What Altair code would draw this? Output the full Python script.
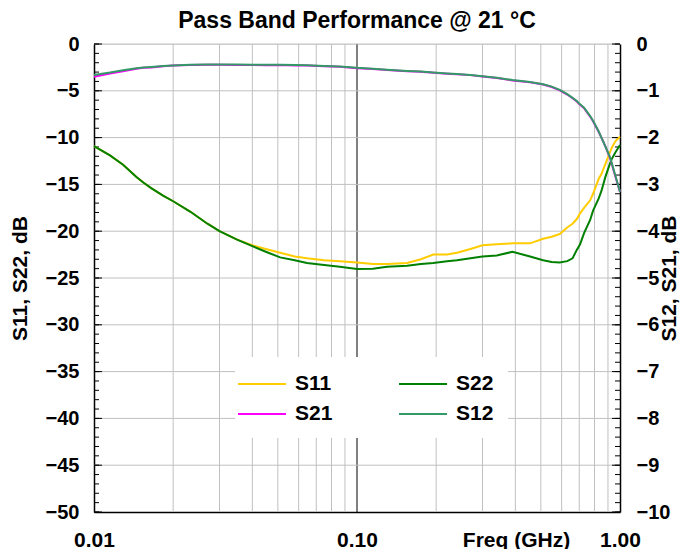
import altair as alt
import pandas as pd

# ---------------- data ----------------
freq = [0.01, 0.0115, 0.0129, 0.0145, 0.0154, 0.0165, 0.0183, 0.02, 0.0232, 0.027,
        0.03, 0.035, 0.04, 0.045, 0.051, 0.058, 0.0645, 0.075, 0.086, 0.1,
        0.115, 0.13, 0.155, 0.175, 0.195, 0.22, 0.24, 0.27, 0.30, 0.34,
        0.39, 0.455, 0.51, 0.55, 0.59, 0.63, 0.66, 0.685, 0.705, 0.73,
        0.77, 0.79, 0.83, 0.85, 0.88, 0.915, 0.93, 0.96, 1.0]

s11 = [-10.9, -11.9, -12.9, -14.2, -14.8, -15.4, -16.2, -16.8, -17.9, -19.2,
       -20.0, -20.9, -21.5, -21.9, -22.3, -22.7, -22.9, -23.1, -23.2, -23.35,
       -23.5, -23.5, -23.4, -23.0, -22.5, -22.5, -22.3, -21.9, -21.5, -21.4,
       -21.3, -21.3, -20.8, -20.6, -20.3, -19.6, -19.2, -18.7, -18.1, -17.5,
       -16.7, -16.0, -14.4, -13.9, -12.8, -11.6, -11.1, -10.4, -9.9]

s22 = [-10.9, -11.9, -12.9, -14.2, -14.8, -15.4, -16.2, -16.8, -17.9, -19.2,
       -20.0, -20.9, -21.6, -22.2, -22.8, -23.1, -23.4, -23.6, -23.8, -24.05,
       -24.0, -23.8, -23.7, -23.5, -23.4, -23.2, -23.1, -22.9, -22.7, -22.6,
       -22.2, -22.7, -23.1, -23.3, -23.35, -23.2, -22.9, -22.0, -21.4, -20.2,
       -18.8, -17.8, -16.5, -15.7, -14.2, -12.8, -12.3, -11.6, -10.8]

s21 = [-0.70, -0.63, -0.58, -0.53, -0.51, -0.50, -0.475, -0.46, -0.45, -0.445,
       -0.445, -0.45, -0.45, -0.455, -0.45, -0.46, -0.46, -0.475, -0.485, -0.52,
       -0.535, -0.555, -0.58, -0.595, -0.615, -0.635, -0.645, -0.665, -0.695, -0.725,
       -0.78, -0.815, -0.865, -0.92, -0.99, -1.08, -1.16, -1.23, -1.30, -1.37,
       -1.55, -1.65, -1.88, -2.00, -2.19, -2.43, -2.56, -2.83, -3.16]

s12 = [-0.66, -0.61, -0.56, -0.52, -0.50, -0.49, -0.47, -0.46, -0.445, -0.44,
       -0.44, -0.44, -0.445, -0.445, -0.445, -0.45, -0.455, -0.47, -0.48, -0.51,
       -0.53, -0.55, -0.575, -0.59, -0.61, -0.63, -0.64, -0.66, -0.69, -0.72,
       -0.77, -0.81, -0.86, -0.91, -0.98, -1.07, -1.15, -1.22, -1.29, -1.36,
       -1.54, -1.64, -1.87, -2.00, -2.19, -2.41, -2.54, -2.81, -3.16]

series_names = ["S11", "S22", "S21", "S12"]
series_colors = ["#FFCC00", "#008000", "#FF00FF", "#339966"]
legend_order = ["S11", "S21", "S22", "S12"]

x_labels = [0.01, 0.1, 1.0]
x_grid = [0.02, 0.03, 0.04, 0.05, 0.06, 0.07, 0.08, 0.09,
          0.2, 0.3, 0.4, 0.5, 0.6, 0.7, 0.8, 0.9]
x_major_line = [0.1]
left_major = list(range(-50, 1, 5))
left_minor = list(range(-50, 1, 1))
left_grid = list(range(-45, 1, 5))
right_major = list(range(-10, 1, 1))
right_minor = [round(-10 + 0.2 * i, 1) for i in range(51)]

# ---------------- layout / style ----------------
W, H = 526, 468
FONT = "Liberation Sans"
GRID = "#c0c0c0"

def series_df(name, vals):
    return pd.DataFrame({"freq": freq, "value": vals, "series": name})

xs = alt.Scale(type="log", domain=[0.01, 1.0], nice=False)
yl = alt.Scale(domain=[-50, 0], nice=False, zero=False)
yr = alt.Scale(domain=[-10, 0], nice=False, zero=False)
cs = alt.Scale(domain=series_names, range=series_colors)

legend = alt.Legend(
    title=None, orient="none", legendX=141, legendY=313, columns=2,
    values=legend_order,
    symbolType="M-2,0H2", symbolSize=576, symbolStrokeWidth=2,
    labelFont=FONT, labelFontSize=21, labelFontWeight="bold", labelColor="black",
    labelOffset=20, columnPadding=62, rowPadding=7, fillColor="white",
    padding=14, labelLimit=200,
)

x_axis = alt.Axis(
    values=x_labels, format=".2f", grid=False, ticks=False,
    domainColor="black", domainWidth=1.5,
    labelFont=FONT, labelFontSize=21, labelFontWeight="bold", labelColor="black",
    labelPadding=17, labelFlush=False,
    title="Freq (GHz)", titleFont=FONT, titleFontSize=21, titleFontWeight="bold",
    titleColor="black", titleX=422, titleY=28, titleAlign="center",
    titleBaseline="middle",
)

left_axis = alt.Axis(
    orient="left", values=left_major, format="d", grid=False, ticks=False,
    domainColor="black", domainWidth=1.5,
    labelFont=FONT, labelFontSize=20, labelFontWeight="bold", labelColor="black",
    labelPadding=15,
    title="S11, S22, dB", titleFont=FONT, titleFontSize=21, titleFontWeight="bold",
    titleColor="black", titleAngle=270, titleX=-74, titleY=H / 2,
    titleAlign="center", titleBaseline="middle",
)

right_axis = alt.Axis(
    orient="right", values=right_major, format="d", grid=False, ticks=False,
    domainColor="black", domainWidth=1.5,
    labelFont=FONT, labelFontSize=20, labelFontWeight="bold", labelColor="black",
    labelPadding=16,
    title="S12, S21, dB", titleFont=FONT, titleFontSize=21, titleFontWeight="bold",
    titleColor="black", titleAngle=270, titleX=49, titleY=H / 2,
    titleAlign="center", titleBaseline="middle",
)

# ---------------- layers ----------------
vgrid = alt.Chart(pd.DataFrame({"f": x_grid})).mark_rule(color=GRID, strokeWidth=1).encode(
    x=alt.X("f:Q", scale=xs, axis=x_axis))
vmajor = alt.Chart(pd.DataFrame({"f": x_major_line})).mark_rule(color="black", strokeWidth=1).encode(
    x=alt.X("f:Q", scale=xs, axis=x_axis))
hgrid = alt.Chart(pd.DataFrame({"v": left_grid})).mark_rule(color=GRID, strokeWidth=1).encode(
    y=alt.Y("v:Q", scale=yl, axis=None))
lminor = alt.Chart(pd.DataFrame({"v": left_minor})).mark_rule(color="black", strokeWidth=1).encode(
    y=alt.Y("v:Q", scale=yl, axis=None), x=alt.value(0), x2=alt.value(5))
lmajor = alt.Chart(pd.DataFrame({"v": left_major})).mark_rule(color="black", strokeWidth=1).encode(
    y=alt.Y("v:Q", scale=yl, axis=None), x=alt.value(0), x2=alt.value(8))
rminor = alt.Chart(pd.DataFrame({"v": right_minor})).mark_rule(color="black", strokeWidth=1).encode(
    y=alt.Y("v:Q", scale=yr, axis=None), x=alt.value(W - 5), x2=alt.value(W))
rmajor = alt.Chart(pd.DataFrame({"v": right_major})).mark_rule(color="black", strokeWidth=1).encode(
    y=alt.Y("v:Q", scale=yr, axis=None), x=alt.value(W - 8), x2=alt.value(W))


def line_layer(name, vals, yscale, yaxis=None):
    return alt.Chart(series_df(name, vals)).mark_line(strokeWidth=2).encode(
        x=alt.X("freq:Q", scale=xs, axis=x_axis),
        y=alt.Y("value:Q", scale=yscale, axis=yaxis),
        color=alt.Color("series:N", scale=cs, legend=legend),
    )

l11 = line_layer("S11", s11, yl, left_axis)
l22 = line_layer("S22", s22, yl)
l21 = line_layer("S21", s21, yr, right_axis)
l12 = line_layer("S12", s12, yr)

chart = alt.layer(
    vgrid, vmajor, hgrid, lminor, lmajor, rminor, rmajor, l11, l22, l21, l12
).resolve_scale(y="independent").properties(
    width=W, height=H,
    title=alt.TitleParams(
        "Pass Band Performance @ 21 °C", font=FONT, fontSize=23, fontWeight="bold",
        color="black", anchor="middle", frame="group", offset=1,
    ),
    padding={"left": 86, "top": 36, "right": 60, "bottom": 37},
    autosize=alt.AutoSizeParams(type="none"),
).configure_view(stroke=None).configure(background="white")

chart.save("out.html", embed_options={"renderer": "svg", "actions": False})
